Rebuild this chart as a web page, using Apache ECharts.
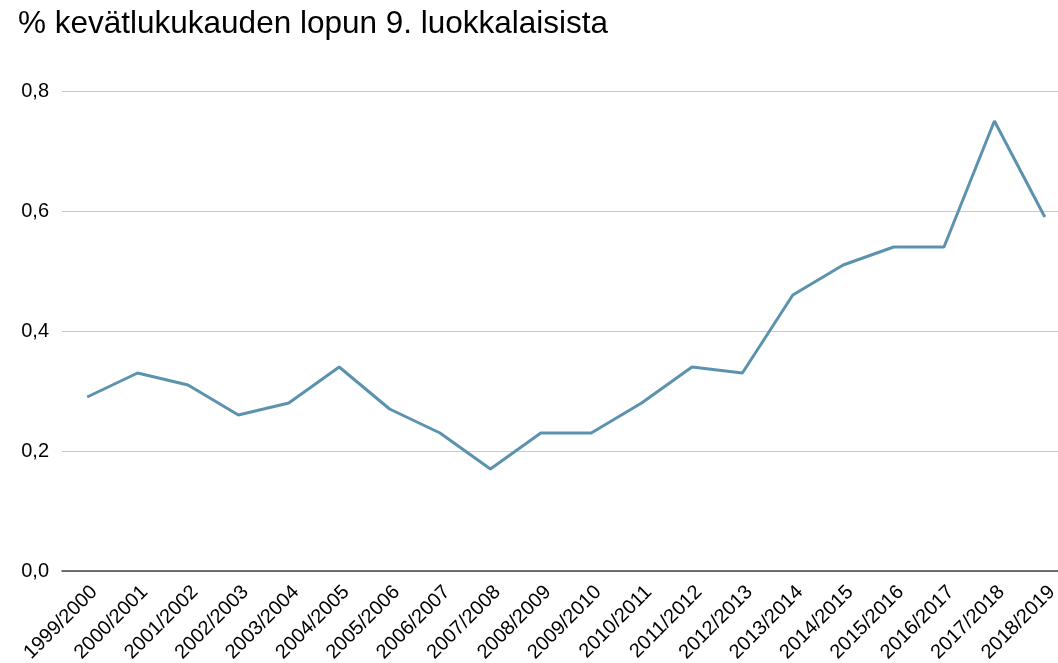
<!DOCTYPE html>
<html>
<head>
<meta charset="utf-8">
<script src="https://cdn.jsdelivr.net/npm/echarts@6/dist/echarts.min.js"></script>
<style>
html, body { margin: 0; padding: 0; background: #fff; overflow: hidden; }
/* kuvaaja jatkuu oikean reunan yli, kuten alkuperäisessä */
#main { width: 1070px; height: 663px; }
</style>
</head>
<body>
<div id="main"></div>
<script>
// lukuvuodet
var years = ['1999/2000', '2000/2001', '2001/2002', '2002/2003', '2003/2004',
    '2004/2005', '2005/2006', '2006/2007', '2007/2008', '2008/2009',
    '2009/2010', '2010/2011', '2011/2012', '2012/2013', '2013/2014',
    '2014/2015', '2015/2016', '2016/2017', '2017/2018', '2018/2019'];
// osuus (%)
var share = [0.29, 0.33, 0.31, 0.26, 0.28, 0.34, 0.27, 0.23, 0.17, 0.23,
    0.23, 0.28, 0.34, 0.33, 0.46, 0.51, 0.54, 0.54, 0.75, 0.59];

var chart = echarts.init(document.getElementById('main'));

var option = {
    animation: false,
    title: {
        text: '% kevätlukukauden lopun 9. luokkalaisista',
        left: 13,
        top: 3,
        textStyle: {
            fontFamily: 'Liberation Sans',
            fontSize: 31.5,
            fontWeight: 'normal',
            color: '#000'
        }
    },
    grid: {
        top: 91,
        bottom: 92,
        left: 62,
        right: 0,
        outerBoundsMode: 'none'
    },
    xAxis: {
        type: 'category',
        data: years,
        boundaryGap: true,
        axisLine: { lineStyle: { color: '#444', width: 1.5 } },
        axisTick: { show: false },
        axisLabel: {
            rotate: 45,
            interval: 0,
            margin: 11,
            verticalAlign: 'top',
            color: '#000',
            fontFamily: 'Liberation Sans',
            fontSize: 20
        }
    },
    yAxis: {
        type: 'value',
        min: 0,
        max: 0.8,
        interval: 0.2,
        axisLine: { show: false },
        axisTick: { show: false },
        splitLine: { lineStyle: { color: '#c8c8c8', width: 1.2 } },
        axisLabel: {
            margin: 13,
            color: '#000',
            fontFamily: 'Liberation Sans',
            fontSize: 20,
            formatter: function (v) { return v.toFixed(1).replace('.', ','); }
        }
    },
    series: [{
        type: 'line',
        data: share,
        symbol: 'none',
        lineStyle: { color: '#5b93ae', width: 3 }
    }]
};

chart.setOption(option);
</script>
</body>
</html>
